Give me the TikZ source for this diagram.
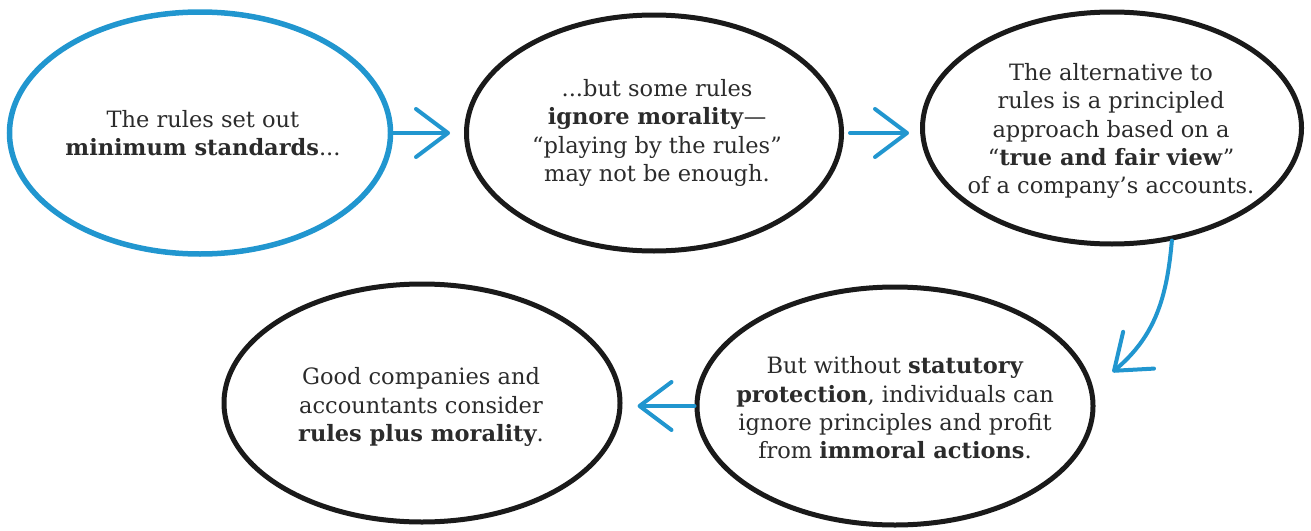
\documentclass[tikz,border=0pt]{standalone}
\usepackage{fontspec}
\setmainfont{DejaVu Serif}
\usetikzlibrary{arrows.meta,shapes.geometric}
\definecolor{sky}{HTML}{2196CF}
\definecolor{ink}{HTML}{1A1A1A}
\definecolor{body}{HTML}{2B2B2B}
\tikzset{
 bubble/.style={ellipse,draw=ink,line width=5pt,inner sep=0pt},
 words/.style={align=center,text=body,font=\fontsize{22.5}{28.4}\selectfont},
 flow/.style={-{Straight Barb[length=32pt,width=48pt,round]},draw=sky,line width=4pt,line cap=round}
}

\begin{document}
\begin{tikzpicture}[x=1pt,y=1pt]
  \useasboundingbox (0,0) rectangle (1311,-530);

  % bubbles
  \node[bubble,draw=sky,line width=5.5pt,minimum width=381pt,minimum height=242pt] (rules) at (200,-133) {};
  \node[bubble,minimum width=375pt,minimum height=236pt] (ignore) at (654,-133) {};
  \node[bubble,minimum width=379pt,minimum height=232pt] (view) at (1112,-128) {};
  \node[bubble,minimum width=396pt,minimum height=238pt] (statute) at (895,-406) {};
  \node[bubble,minimum width=396pt,minimum height=238pt] (good) at (422,-403) {};

  % texts
  \node[words] (rulesT) at (203,-133) {The rules set out\\\textbf{minimum standards}...};
  \node[words] (ignoreT) at (657,-133) {...but some rules\\\textbf{ignore morality}—\\“playing by the rules”\\may not be enough.};
  \node[words] (viewT) at (1111,-131) {The alternative to\\rules is a principled\\approach based on a\\“\textbf{true and fair view}”\\of a company’s accounts.};
  \node[words] (statuteT) at (895,-408) {But without \textbf{statutory}\\\textbf{protection}, individuals can\\ignore principles and profit\\from \textbf{immoral actions}.};
  \node[words] (goodT) at (421,-407) {Good companies and\\accountants consider\\\textbf{rules plus morality}.};

  % arrows
  \draw[flow,shorten >=14pt] (rules.east) -- (ignore.west);
  \draw[flow,shorten <=6pt,shorten >=11pt] (ignore.east) -- (ignore.east -| view.west);
  \draw[flow] (view.-62) to[out=-95,in=40] ([xshift=25pt]statute.10);
  \draw[flow,shorten >=15pt] (statute.west) -- (statute.west -| good.east);
\end{tikzpicture}
\end{document}
